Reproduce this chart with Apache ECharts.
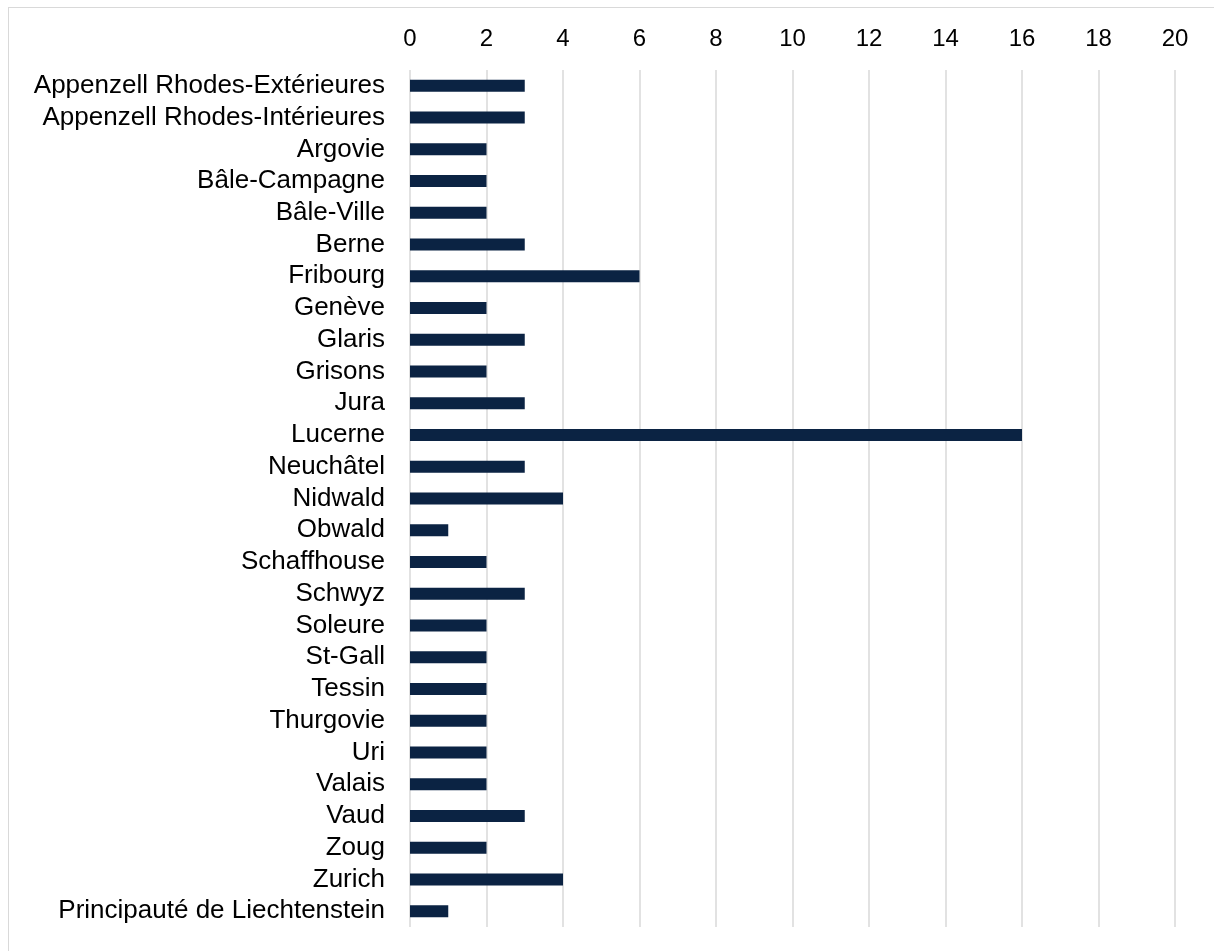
<!DOCTYPE html>
<html>
<head>
<meta charset="utf-8">
<script src="https://cdn.jsdelivr.net/npm/echarts@6/dist/echarts.min.js"></script>
<style>
    html, body { margin: 0; padding: 0; background: #fff; overflow: hidden; }
    .frame {
        position: absolute; left: 8px; top: 7px;
        width: 1220px; height: 960px;
        border: 1px solid #d9d9d9;
        box-sizing: border-box;
    }
    #chart { position: absolute; left: 0; top: 0; width: 1214px; height: 951px; }
</style>
</head>
<body>
<div class="frame"></div>
<div id="chart"></div>
<script>
    // cantons (haut -> bas)
    const cantons = [
        'Appenzell Rhodes-Extérieures', 'Appenzell Rhodes-Intérieures', 'Argovie',
        'Bâle-Campagne', 'Bâle-Ville', 'Berne', 'Fribourg', 'Genève', 'Glaris',
        'Grisons', 'Jura', 'Lucerne', 'Neuchâtel', 'Nidwald', 'Obwald',
        'Schaffhouse', 'Schwyz', 'Soleure', 'St-Gall', 'Tessin', 'Thurgovie',
        'Uri', 'Valais', 'Vaud', 'Zoug', 'Zurich', 'Principauté de Liechtenstein'
    ];
    const valeurs = [3, 3, 2, 2, 2, 3, 6, 2, 3, 2, 3, 16, 3, 4, 1, 2, 3, 2, 2, 2, 2, 2, 2, 3, 2, 4, 1];

    const chart = echarts.init(document.getElementById('chart'));
    const option = {
        animation: false,
        textStyle: { fontFamily: 'Liberation Sans, Arial, sans-serif' },
        grid: { left: 410, right: 39, top: 70, bottom: 24 },
        xAxis: {
            type: 'value',
            position: 'top',
            min: 0,
            max: 20,
            interval: 2,
            axisLine: { show: false },
            axisTick: { show: false },
            axisLabel: { color: '#000', fontSize: 24, margin: 19 },
            splitLine: { lineStyle: { color: '#d9d9d9', width: 1.5 } }
        },
        yAxis: {
            type: 'category',
            inverse: true,
            data: cantons,
            axisLine: { show: false },
            axisTick: { show: false },
            axisLabel: { color: '#000', fontSize: 26, margin: 25, interval: 0 }
        },
        series: [{
            type: 'bar',
            data: valeurs,
            barWidth: 12,
            itemStyle: { color: '#0b2343' }
        }]
    };
    chart.setOption(option);
</script>
</body>
</html>
